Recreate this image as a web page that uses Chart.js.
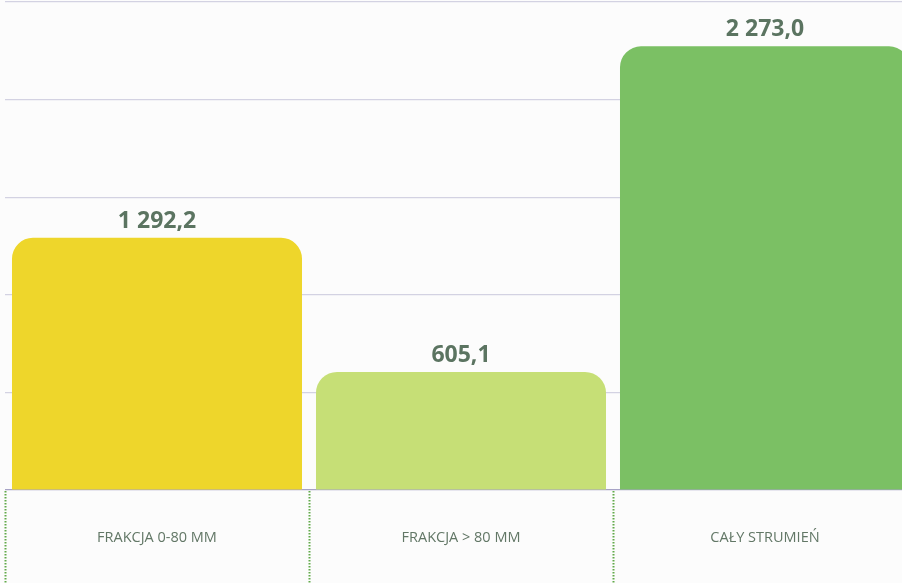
<!DOCTYPE html>
<html>
<head>
<meta charset="utf-8">
<script src="https://cdn.jsdelivr.net/npm/chart.js@4"></script>
<style>
  html, body { margin: 0; padding: 0; background: #fcfcfc; overflow: hidden; }
  .wrap { position: relative; width: 902px; height: 583px; overflow: hidden; }
  .wrap canvas { position: absolute; left: 0; top: 0; }
</style>
</head>
<body>
<div class="wrap">
  <canvas id="massChart" width="917" height="583"></canvas>
</div>
<script>
// Fractions and their values
const categories = ['FRAKCJA 0-80 MM', 'FRAKCJA > 80 MM', 'CAŁY STRUMIEŃ'];
const values = [1292.2, 605.1, 2273.0];
const barColors = ['#eed62b', '#c6df76', '#7bc064'];

// Polish style number: space as thousands separator, comma as decimal mark
function formatPl(v) {
  const parts = v.toFixed(1).split('.');
  const intPart = parts[0].replace(/\B(?=(\d{3})+(?!\d))/g, ' ');
  return intPart + ',' + parts[1];
}

// Value labels above each bar
const valueLabels = {
  id: 'valueLabels',
  afterDatasetsDraw(chart) {
    const ctx = chart.ctx;
    const meta = chart.getDatasetMeta(0);
    ctx.save();
    ctx.font = 'bold 23px "Open Sans"';
    ctx.fillStyle = '#5b7461';
    ctx.textAlign = 'center';
    ctx.textBaseline = 'bottom';
    meta.data.forEach(function(bar, i) {
      ctx.fillText(formatPl(values[i]), bar.x, bar.y - 5);
    });
    ctx.restore();
  }
};

// Dotted separators between categories under the axis
const categoryDividers = {
  id: 'categoryDividers',
  afterDraw(chart) {
    const ctx = chart.ctx;
    const x = chart.scales.x;
    const top = chart.chartArea.bottom;
    const bottom = chart.height;
    const step = x.getPixelForValue(1) - x.getPixelForValue(0);
    ctx.save();
    ctx.strokeStyle = '#62aa4a';
    ctx.lineWidth = 2;
    ctx.setLineDash([1.5, 1.5]);
    for (let i = 0; i < categories.length; i++) {
      const px = Math.round(x.getPixelForValue(i) - step / 2) + 0.5;
      ctx.beginPath();
      ctx.moveTo(px, top + 1);
      ctx.lineTo(px, bottom);
      ctx.stroke();
    }
    ctx.restore();
  }
};

const ctx = document.getElementById('massChart').getContext('2d');
const massChart = new Chart(ctx, {
  type: 'bar',
  data: {
    labels: categories,
    datasets: [{
      data: values,
      backgroundColor: barColors,
      borderWidth: 0,
      borderRadius: { topLeft: 21, topRight: 21, bottomLeft: 0, bottomRight: 0 },
      borderSkipped: 'bottom',
      barPercentage: 0.954,
      categoryPercentage: 1
    }]
  },
  options: {
    responsive: false,
    animation: false,
    layout: { padding: { left: 5, top: 2, right: 0, bottom: 0 } },
    scales: {
      x: {
        grid: { display: false },
        border: { display: false },
        ticks: {
          color: '#627766',
          font: { family: '"Open Sans"', size: 14.5 },
          padding: 31,
          maxRotation: 0
        },
        afterFit(scale) { scale.height = 93; }
      },
      y: {
        min: 0,
        max: 2500,
        ticks: { display: false, stepSize: 500 },
        border: { display: false },
        grid: {
          drawTicks: false,
          color: function(c) { return c.tick && c.tick.value === 0 ? '#a7a3c6' : '#d3d2e2'; },
          lineWidth: 1.2
        },
        afterFit(scale) { scale.width = 0; }
      }
    },
    plugins: {
      legend: { display: false },
      tooltip: { enabled: false }
    }
  },
  plugins: [valueLabels, categoryDividers]
});
</script>
</body>
</html>
